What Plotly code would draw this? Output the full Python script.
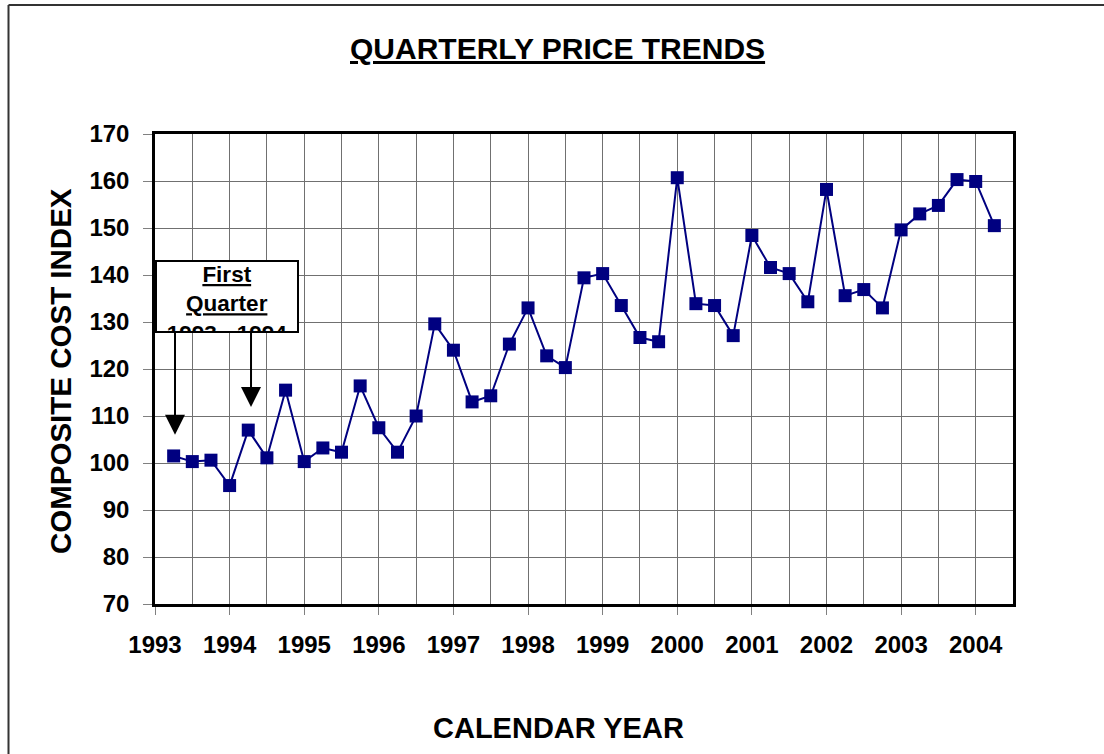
import plotly.graph_objects as go

# Quarter positions (decimal year) and composite cost index values
quarter_pos = [1993.25, 1993.5, 1993.75, 1994.0,
               1994.25, 1994.5, 1994.75, 1995.0,
               1995.25, 1995.5, 1995.75, 1996.0,
               1996.25, 1996.5, 1996.75, 1997.0,
               1997.25, 1997.5, 1997.75, 1998.0,
               1998.25, 1998.5, 1998.75, 1999.0,
               1999.25, 1999.5, 1999.75, 2000.0,
               2000.25, 2000.5, 2000.75, 2001.0,
               2001.25, 2001.5, 2001.75, 2002.0,
               2002.25, 2002.5, 2002.75, 2003.0,
               2003.25, 2003.5, 2003.75, 2004.0,
               2004.25]
index_values = [101.5, 100.3, 100.6, 95.2,
                107.0, 101.1, 115.5, 100.3,
                103.2, 102.3, 116.4, 107.5,
                102.3, 110.0, 129.6, 124.0,
                113.0, 114.3, 125.3, 133.0,
                122.8, 120.3, 139.4, 140.3,
                133.5, 126.7, 125.8, 160.7,
                133.9, 133.5, 127.1, 148.4,
                141.6, 140.3, 134.3, 158.2,
                135.6, 136.9, 133.0, 149.6,
                153.0, 154.8, 160.3, 159.9,
                150.5]
year_ticks = [1993, 1994, 1995, 1996, 1997, 1998, 1999, 2000, 2001, 2002, 2003, 2004]
year_labels = [str(y) for y in year_ticks]
y_ticks = [70, 80, 90, 100, 110, 120, 130, 140, 150, 160, 170]

FONT = "Liberation Sans, Arial, sans-serif"
NAVY = "#000080"

fig = go.Figure()
fig.add_trace(go.Scatter(
    x=quarter_pos, y=index_values, mode="lines+markers",
    line=dict(color=NAVY, width=2),
    marker=dict(symbol="square", size=13, color=NAVY, line=dict(width=0)),
    showlegend=False, hoverinfo="x+y",
))

W, H = 1104, 754
L, R, T, B = 155, 1013, 134, 604
pw, ph = R - L, B - T

def px(xp):
    return (xp - L) / pw

def py(yp):
    return (B - yp) / ph

fig.update_layout(
    width=W, height=H,
    margin=dict(l=L, r=W - R, t=T, b=H - B, pad=0),
    paper_bgcolor="white", plot_bgcolor="white",
    font=dict(family=FONT, color="black"),
    xaxis=dict(
        range=[1993, 2004.5], tickmode="array", tickvals=year_ticks, ticktext=year_labels,
        showgrid=True, gridcolor="#707070", gridwidth=1,
        minor=dict(dtick=0.5, tick0=1993, showgrid=True, gridcolor="#707070", gridwidth=1, ticks=""),
        ticks="outside", ticklen=8, tickcolor="#808080", tickwidth=1,
        showline=True, linecolor="black", linewidth=2.5, mirror=True,
        tickfont=dict(family=FONT, size=24, color="black", weight="bold"),
        ticklabelstandoff=9, zeroline=False,
    ),
    yaxis=dict(
        range=[70, 170], tickmode="array", tickvals=y_ticks,
        showgrid=True, gridcolor="#707070", gridwidth=1,
        ticks="outside", ticklen=9, tickcolor="#808080", tickwidth=1,
        showline=True, linecolor="black", linewidth=2.5, mirror=True,
        tickfont=dict(family=FONT, size=24, color="black", weight="bold"),
        ticklabelstandoff=9, zeroline=False,
    ),
)

annotations = [
    dict(text="<u>QUARTERLY PRICE TRENDS</u>", x=px(557), y=py(49), xref="paper", yref="paper",
         xanchor="center", yanchor="middle", showarrow=False,
         font=dict(family=FONT, size=30, color="black", weight="bold")),
    dict(text="COMPOSITE COST INDEX", x=px(60), y=py(371), xref="paper", yref="paper",
         xanchor="center", yanchor="middle", showarrow=False, textangle=-90,
         font=dict(family=FONT, size=29.5, color="black", weight="bold")),
    dict(text="CALENDAR YEAR", x=px(558), y=py(728), xref="paper", yref="paper",
         xanchor="center", yanchor="middle", showarrow=False,
         font=dict(family=FONT, size=29, color="black", weight="bold")),
    dict(text="<u>First</u><br><u>Quarter</u><br>1993 - 1994", x=px(155), y=py(260),
         xref="paper", yref="paper", xanchor="left", yanchor="top", showarrow=False,
         width=140, height=69, valign="top", align="center",
         bgcolor="white", bordercolor="black", borderwidth=2, borderpad=0,
         font=dict(family=FONT, size=22.5, color="black", weight="bold")),
    dict(text="", x=1993.268, y=106.0, xref="x", yref="y", showarrow=True,
         ax=0, ay=-104, axref="pixel", ayref="pixel",
         arrowhead=2, arrowsize=2, arrowwidth=2, arrowcolor="black"),
    dict(text="", x=1994.287, y=111.9, xref="x", yref="y", showarrow=True,
         ax=0, ay=-76, axref="pixel", ayref="pixel",
         arrowhead=2, arrowsize=2, arrowwidth=2, arrowcolor="black"),
]
fig.update_layout(annotations=annotations)

# outer frame (left and top edges visible)
fig.add_shape(type="line", xref="paper", yref="paper", x0=px(8.5), x1=px(8.5), y0=py(5), y1=py(760),
              line=dict(color="#333333", width=2))
fig.add_shape(type="line", xref="paper", yref="paper", x0=px(8.5), x1=px(1110), y0=py(5), y1=py(5),
              line=dict(color="#333333", width=2))

fig.write_html("out.html", config={"displayModeBar": False},
               post_script="document.body.style.margin='0';document.documentElement.style.overflow='hidden';")
